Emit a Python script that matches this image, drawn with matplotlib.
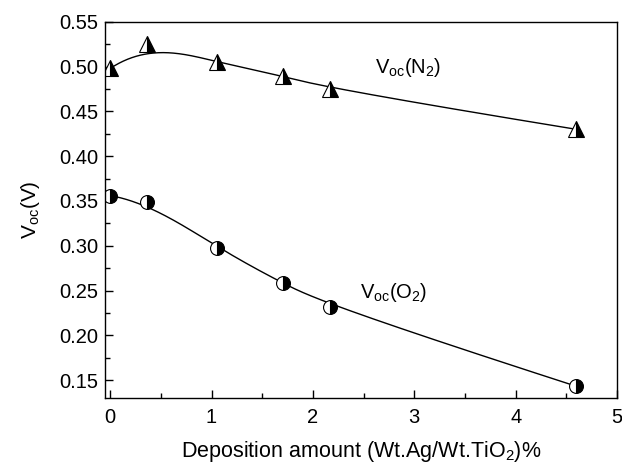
import numpy as np
import matplotlib.pyplot as plt
from matplotlib.ticker import MultipleLocator

plt.rcParams['font.family'] = ['Liberation Sans', 'DejaVu Sans']
plt.rcParams['mathtext.fontset'] = 'custom'
plt.rcParams['mathtext.rm'] = 'Liberation Sans'
plt.rcParams['mathtext.it'] = 'Liberation Sans'

# Deposition amount (wt% Ag / TiO2)
x_n2 = [0.0, 0.36, 1.05, 1.70, 2.17, 4.60]
voc_n2 = [0.498, 0.525, 0.505, 0.490, 0.475, 0.430]
x_o2 = [0.0, 0.36, 1.05, 1.70, 2.17, 4.60]
voc_o2 = [0.356, 0.349, 0.298, 0.258, 0.232, 0.143]


# clamped cubic B-spline using the data as control points (like Origin's B-spline line)
def bspline(xs, ys, n=300, k=3):
    pts = np.column_stack([xs, ys])
    m = len(pts)
    knots = np.concatenate([np.zeros(k), np.linspace(0, 1, m - k + 1), np.ones(k)])
    t = np.linspace(0, 1, n)
    t[-1] -= 1e-10

    def basis(i, p, tt):
        if p == 0:
            return ((knots[i] <= tt) & (tt < knots[i + 1])).astype(float)
        out = np.zeros_like(tt)
        d1 = knots[i + p] - knots[i]
        d2 = knots[i + p + 1] - knots[i + 1]
        if d1 > 0:
            out += (tt - knots[i]) / d1 * basis(i, p - 1, tt)
        if d2 > 0:
            out += (knots[i + p + 1] - tt) / d2 * basis(i + 1, p - 1, tt)
        return out

    curve = sum(basis(i, k, t)[:, None] * pts[i] for i in range(m))
    return curve[:, 0], curve[:, 1]


fig = plt.figure(figsize=(6.22, 4.66), dpi=100)
ax = fig.add_axes([0.169, 0.146, 0.823, 0.807])

for xs, ys, mk, ms in [(x_n2, voc_n2, '^', 11), (x_o2, voc_o2, 'o', 10)]:
    cx, cy = bspline(xs, ys)
    ax.plot(cx, cy, color='black', lw=1)
    ax.plot(xs, ys, linestyle='none', marker=mk, markersize=ms,
            fillstyle='right', markerfacecolor='black',
            markerfacecoloralt='white', markeredgecolor='black',
            markeredgewidth=0.8)

ax.text(2.61, 0.493, r'V$_{\rm oc}$(N$_2$)', fontsize=14.5)
ax.text(2.46, 0.242, r'V$_{\rm oc}$(O$_2$)', fontsize=14.5)

ax.set_xlim(-0.05, 5.0)
ax.set_ylim(0.13, 0.55)
ax.xaxis.set_major_locator(MultipleLocator(1))
ax.xaxis.set_minor_locator(MultipleLocator(0.5))
ax.yaxis.set_major_locator(MultipleLocator(0.05))
ax.yaxis.set_minor_locator(MultipleLocator(0.025))
ax.yaxis.set_major_formatter(plt.FormatStrFormatter('%.2f'))
ax.tick_params(which='both', direction='in', top=False, right=False,
               labelsize=14.5, width=1)
ax.tick_params(axis='x', which='major', pad=7)
ax.tick_params(axis='y', which='major', pad=5)
ax.tick_params(which='major', length=6)
ax.tick_params(which='minor', length=3.5)
for s in ax.spines.values():
    s.set_linewidth(1)

ax.set_xlabel(r'Deposition amount (Wt.Ag/Wt.TiO$_2$)%', fontsize=15.5, labelpad=9)
ax.set_ylabel(r'V$_{\rm oc}$(V)', fontsize=15, labelpad=12)

fig.savefig('out.png', dpi=100)
